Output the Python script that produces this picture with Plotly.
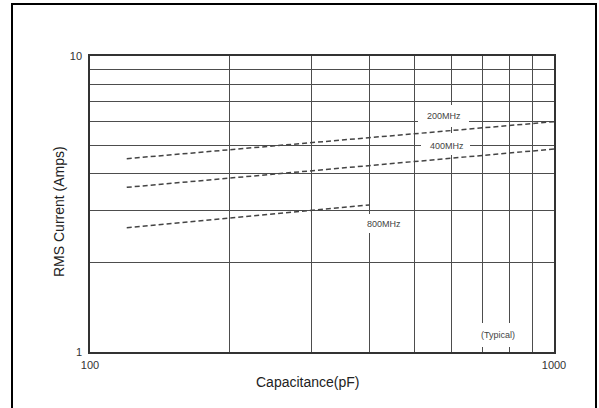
import plotly.graph_objects as go

# ---- data ----
cap_200 = [120, 1000]
amp_200 = [4.5, 6.0]
cap_400 = [120, 1000]
amp_400 = [3.6, 4.85]
cap_800 = [120, 400]
amp_800 = [2.63, 3.14]

x_ticks = [100, 200, 300, 400, 500, 600, 700, 800, 900, 1000]
x_ticktext = ["100", "", "", "", "", "", "", "", "", "1000"]
y_ticks = [1, 2, 3, 4, 5, 6, 7, 8, 9, 10]
y_ticktext = ["1", "", "", "", "", "", "", "", "", "10"]

W, H = 599, 408
L, R, T, B = 90, 45, 56, 56
PW, PH = W - L - R, H - T - B


def px(x):
    return (x - L) / PW


def py(y):
    return (H - B - y) / PH


fig = go.Figure()
dash_style = dict(color="#444444", width=1.5, dash="5px,3px")
for cx, cy, nm in [(cap_200, amp_200, "200MHz"), (cap_400, amp_400, "400MHz"), (cap_800, amp_800, "800MHz")]:
    fig.add_trace(go.Scatter(x=cx, y=cy, mode="lines", line=dash_style, name=nm,
                             showlegend=False, hoverinfo="skip"))

grid_col = "#4d4d4d"
tick_font = dict(size=11, color="#333333", family="Liberation Sans, Arial, sans-serif")
fig.update_layout(
    width=W, height=H,
    margin=dict(l=L, r=R, t=T, b=B),
    paper_bgcolor="white", plot_bgcolor="white",
    font=dict(family="Liberation Sans, Arial, sans-serif", color="#333333"),
    xaxis=dict(type="log", range=[2, 3], tickmode="array", tickvals=x_ticks, ticktext=x_ticktext,
               showgrid=True, gridcolor=grid_col, gridwidth=1, zeroline=False,
               showline=True, linecolor="#333333", linewidth=1.5, mirror=True,
               ticks="", tickfont=tick_font, ticklabelstandoff=2),
    yaxis=dict(type="log", range=[0, 1], tickmode="array", tickvals=y_ticks, ticktext=y_ticktext,
               showgrid=True, gridcolor=grid_col, gridwidth=1, zeroline=False,
               showline=True, linecolor="#333333", linewidth=1.5, mirror=True,
               ticks="", tickfont=tick_font, ticklabelstandoff=4),
)

shapes = []
# white gaps in gridlines behind labels
for (x0, x1, y0, y1) in [(418, 469, 105, 127), (421, 470, 138, 155), (449, 455, 133, 155),
                         (366, 402, 214, 233), (474, 522, 323, 347)]:
    shapes.append(dict(type="rect", xref="paper", yref="paper", layer="above",
                       x0=px(x0), x1=px(x1), y0=py(y1), y1=py(y0),
                       fillcolor="white", line=dict(width=0)))
# outer frame
shapes.append(dict(type="rect", xref="paper", yref="paper", layer="above",
                   x0=px(12), x1=px(596), y0=py(414), y1=py(4),
                   fillcolor="rgba(0,0,0,0)", line=dict(color="black", width=2)))
fig.update_layout(shapes=shapes)

lab_font = dict(size=9, color="#444444")
ann = [
    ("200MHz", 444, 116), ("400MHz", 447, 146), ("800MHz", 384, 224), ("(Typical)", 498, 335),
]
for txt, x, y in ann:
    fig.add_annotation(text=txt, xref="paper", yref="paper", x=px(x), y=py(y),
                       showarrow=False, font=lab_font, xanchor="center", yanchor="middle")

fig.add_annotation(text="Capacitance(pF)", xref="paper", yref="paper", x=px(308), y=py(382),
                   showarrow=False, font=dict(size=14, color="#222222"), xanchor="center", yanchor="middle")
fig.add_annotation(text="RMS Current (Amps)", xref="paper", yref="paper", x=px(59), y=py(212),
                   showarrow=False, textangle=-90, font=dict(size=14, color="#222222"),
                   xanchor="center", yanchor="middle")

fig.write_html("out.html", config={"displayModeBar": False},
               post_script="document.body.style.margin='0';document.body.style.padding='0';")
